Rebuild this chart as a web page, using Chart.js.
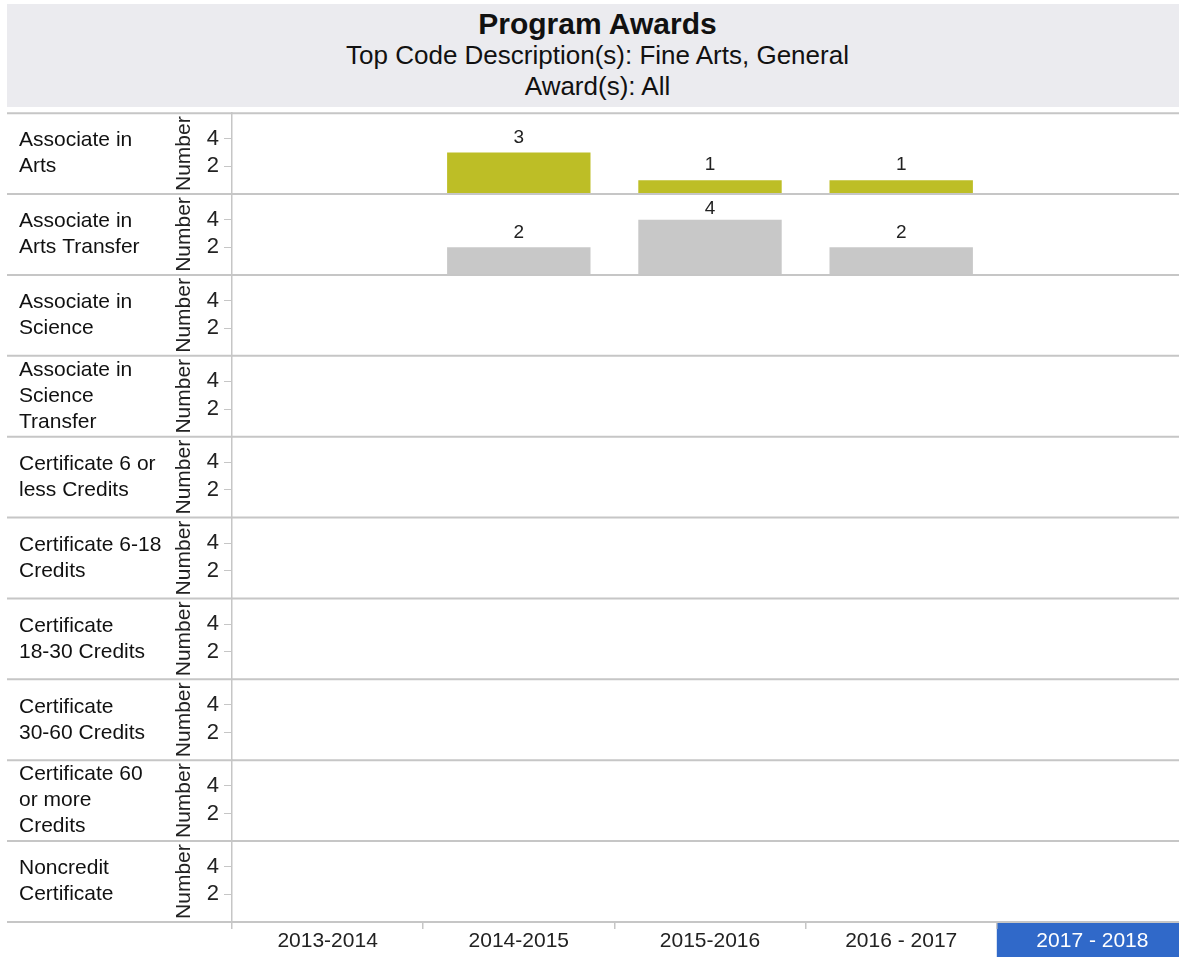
<!DOCTYPE html>
<html lang="en">
<head>
  <meta charset="UTF-8">
  <title>Program Awards</title>
  <script src="https://cdn.jsdelivr.net/npm/chart.js"></script>
  <style>
    body { margin: 0; background: #fff; font-family: "Liberation Sans", Arial, sans-serif; overflow: hidden; width: 1179px; height: 957px; position: relative; }
    .header { position: absolute; left: 7px; top: 4px; width: 1181px; height: 103px; background: #ebebef; color: #111; text-align: center; }
    .header div { position: absolute; left: 0; width: 100%; height: 30px; line-height: 30px; white-space: nowrap; }
    .title { top: 5px; font-size: 30px; font-weight: bold; }
    .sub1 { top: 36px; font-size: 26px; }
    .sub2 { top: 67px; font-size: 26px; }
    .wrap { position: absolute; left: 0; top: 95px; width: 1188px; height: 862px; }
  </style>
</head>
<body>
<div class="header">
  <div class="title">Program Awards</div>
  <div class="sub1">Top Code Description(s): Fine Arts, General</div>
  <div class="sub2">Award(s): All</div>
</div>
<div class="wrap"><canvas id="awards" width="1188" height="862"></canvas></div>

<script>
  const years = ['2013-2014', '2014-2015', '2015-2016', '2016 - 2017', '2017 - 2018'];
  const selectedYear = '2017 - 2018';
  const yTicks = [2, 4];

  const awardTypes = [
    ['Associate in', 'Arts'],
    ['Associate in', 'Arts Transfer'],
    ['Associate in', 'Science'],
    ['Associate in', 'Science', 'Transfer'],
    ['Certificate 6 or', 'less Credits'],
    ['Certificate 6-18', 'Credits'],
    ['Certificate', '18-30 Credits'],
    ['Certificate', '30-60 Credits'],
    ['Certificate 60', 'or more', 'Credits'],
    ['Noncredit', 'Certificate']
  ];

  const associateArts = [null, 3, 1, 1, null];
  const associateArtsTransfer = [null, 2, 4, 2, null];
  const noAwards = [null, null, null, null, null];
  const rowValues = [associateArts, associateArtsTransfer, noAwards, noAwards, noAwards,
                     noAwards, noAwards, noAwards, noAwards, noAwards];
  const rowColors = ['#bdbe26', '#c8c8c8', '#c8c8c8', '#c8c8c8', '#c8c8c8',
                     '#c8c8c8', '#c8c8c8', '#c8c8c8', '#c8c8c8', '#c8c8c8'];

  const FONT = '"Liberation Sans", Arial, sans-serif';
  const LINE = '#c6c6c6';

  // one y axis per award type, stacked on top of each other
  const scales = {
    x: {
      type: 'category',
      position: 'bottom',
      offset: true,
      grid: { drawOnChartArea: false, offset: true, tickLength: 7, color: LINE, lineWidth: 1.5 },
      border: { display: false },
      ticks: {
        color: c => years[c.index] === selectedYear ? '#fff' : '#222',
        font: { family: FONT, size: 21 },
        padding: 0,
        maxRotation: 0,
        autoSkip: false
      },
      afterFit: s => { s.height = 35; }
    }
  };
  awardTypes.forEach((_, i) => {
    scales['y' + i] = {
      type: 'linear',
      position: 'left',
      stack: 'rows',
      stackWeight: 1,
      weight: awardTypes.length - i,
      min: 0,
      max: 5.85,
      afterBuildTicks: s => { s.ticks = yTicks.map(v => ({ value: v })); },
      ticks: { color: '#222', font: { family: FONT, size: 22 }, padding: 5 },
      grid: { drawOnChartArea: false, tickLength: 8, color: LINE, lineWidth: 1 },
      border: { display: true, color: LINE, width: 1.5 },
      title: { display: true, text: 'Number', color: '#222', font: { family: FONT, size: 21 }, padding: { top: 172, bottom: 0 } },
      afterFit: s => { s.width = 232; }
    };
  });

  const datasets = rowValues.map((vals, i) => ({
    label: awardTypes[i].join(' '),
    data: vals,
    yAxisID: 'y' + i,
    backgroundColor: rowColors[i],
    grouped: false,
    barPercentage: 0.75,
    categoryPercentage: 1
  }));

  const panelPlugin = {
    id: 'panels',
    beforeDraw(chart) {
      const ctx = chart.ctx;
      const x = chart.scales.x;
      const idx = years.indexOf(selectedYear);
      const step = x.getPixelForValue(1) - x.getPixelForValue(0);
      ctx.save();
      ctx.fillStyle = '#3069c9';
      ctx.fillRect(x.getPixelForValue(idx) - step / 2, x.top, chart.width, x.bottom - x.top);
      ctx.restore();
    },
    afterDatasetsDraw(chart) {
      const ctx = chart.ctx;
      ctx.save();
      ctx.fillStyle = '#222';
      ctx.font = '19px ' + FONT;
      ctx.textAlign = 'center';
      ctx.textBaseline = 'middle';
      chart.data.datasets.forEach((ds, i) => {
        const meta = chart.getDatasetMeta(i);
        const ys = chart.scales[ds.yAxisID];
        meta.data.forEach((bar, j) => {
          if (ds.data[j] == null) return;
          ctx.fillText(ds.data[j], bar.x, Math.max(bar.y - 15, ys.top + 15));
        });
      });
      ctx.restore();
    },
    afterDraw(chart) {
      const ctx = chart.ctx;
      ctx.save();
      ctx.strokeStyle = LINE;
      ctx.lineWidth = 2;
      const first = chart.scales.y0;
      ctx.beginPath();
      ctx.moveTo(7, first.top);
      ctx.lineTo(chart.width, first.top);
      awardTypes.forEach((lines, i) => {
        const s = chart.scales['y' + i];
        ctx.moveTo(7, s.bottom);
        ctx.lineTo(chart.width, s.bottom);
      });
      ctx.stroke();

      ctx.fillStyle = '#111';
      ctx.font = '21px ' + FONT;
      ctx.textAlign = 'left';
      ctx.textBaseline = 'middle';
      awardTypes.forEach((lines, i) => {
        const s = chart.scales['y' + i];
        const mid = (s.top + s.bottom) / 2;
        const lh = 26;
        lines.forEach((t, k) => {
          ctx.fillText(t, 19, mid + (k - (lines.length - 1) / 2) * lh);
        });
      });
      ctx.restore();
    }
  };

  new Chart(document.getElementById('awards'), {
    type: 'bar',
    data: { labels: years, datasets },
    options: {
      responsive: false,
      animation: false,
      layout: { padding: 0 },
      plugins: { legend: { display: false }, tooltip: { enabled: false } },
      scales
    },
    plugins: [panelPlugin]
  });
</script>
</body>
</html>
